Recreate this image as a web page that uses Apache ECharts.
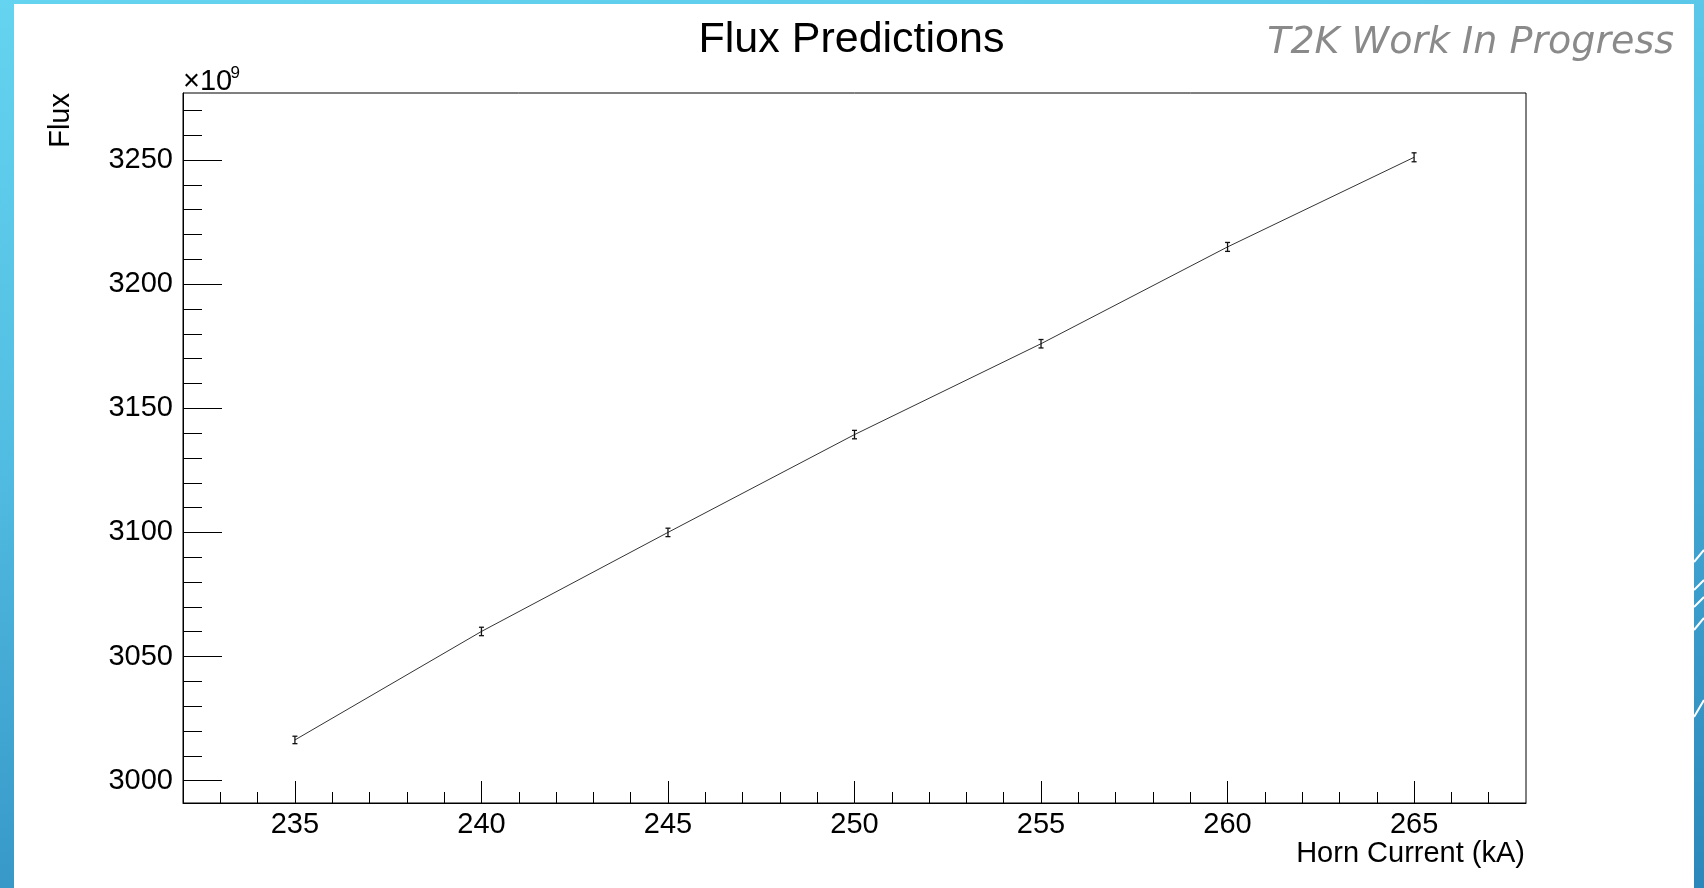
<!DOCTYPE html>
<html><head><meta charset="utf-8">
<script src="https://cdn.jsdelivr.net/npm/echarts@6/dist/echarts.min.js"></script>
<style>
html,body{margin:0;padding:0;width:1704px;height:888px;overflow:hidden;}
body{background:linear-gradient(172deg,#64d4f0 0%,#52bde2 40%,#3a9ccb 75%,#2c88ba 100%);}
#paper{position:absolute;left:14px;top:4px;width:1680px;height:884px;background:#fff;}
#chart{position:absolute;left:0;top:0;width:1704px;height:888px;}
</style></head><body>
<div id="paper"></div><div id="chart"></div>
<script>
// Data (flux in units of 1e9)
const hornCurrent = [235, 240, 245, 250, 255, 260, 265];
const fluxValues  = [3016.4, 3060.1, 3100.0, 3139.4, 3176.0, 3215.0, 3251.1];
const fluxErrors  = [1.5, 1.7, 1.7, 1.7, 1.7, 1.8, 1.8];

// Tick labels / tick positions
const xMajorTicks = [235, 240, 245, 250, 255, 260, 265];
const xMinorTicks = [233, 234, 236, 237, 238, 239, 241, 242, 243, 244, 246, 247, 248, 249,
                     251, 252, 253, 254, 256, 257, 258, 259, 261, 262, 263, 264, 266, 267];
const yMajorTicks = [3000, 3050, 3100, 3150, 3200, 3250];
const yMinorTicks = [3010, 3020, 3030, 3040, 3060, 3070, 3080, 3090, 3110, 3120, 3130, 3140,
                     3160, 3170, 3180, 3190, 3210, 3220, 3230, 3240, 3260, 3270];

const X_MIN = 232, X_MAX = 268, Y_MIN = 2991, Y_MAX = 3277;
const FONT = 'Liberation Sans, Arial, sans-serif';

const lineData = hornCurrent.map((x, i) => [x, fluxValues[i]]);
const errData = hornCurrent.map((x, i) => [x, fluxValues[i], fluxErrors[i]]);

const gridRect = {left: 183, top: 93, width: 1343, height: 710};

const chart = echarts.init(document.getElementById('chart'), null, {renderer: 'canvas'});

const labelStyle = {show: true, color: '#000', fontFamily: FONT, fontSize: 29, formatter: v => String(v)};

chart.setOption({
  animation: false,
  backgroundColor: 'transparent',
  grid: [
    Object.assign({show: true, borderColor: '#000', borderWidth: 1, backgroundColor: 'transparent'}, gridRect),
    Object.assign({show: false}, gridRect)
  ],
  xAxis: [
    {
      type: 'value', gridIndex: 0, min: X_MIN, max: X_MAX, position: 'bottom',
      axisLine: {show: true, onZero: false, lineStyle: {color: '#000', width: 1}},
      axisTick: {show: true, inside: true, length: 22, lineStyle: {color: '#000', width: 1}, customValues: xMajorTicks},
      axisLabel: Object.assign({margin: 7, customValues: xMajorTicks}, labelStyle),
      splitLine: {show: false}
    },
    {
      type: 'value', gridIndex: 1, min: X_MIN, max: X_MAX, position: 'bottom',
      axisLine: {show: false, onZero: false},
      axisTick: {show: true, inside: true, length: 11, lineStyle: {color: '#000', width: 1}, customValues: xMinorTicks},
      axisLabel: {show: false},
      splitLine: {show: false}
    }
  ],
  yAxis: [
    {
      type: 'value', gridIndex: 0, min: Y_MIN, max: Y_MAX, position: 'left',
      axisLine: {show: true, onZero: false, lineStyle: {color: '#000', width: 1}},
      axisTick: {show: true, inside: true, length: 39, lineStyle: {color: '#000', width: 1}, customValues: yMajorTicks},
      axisLabel: Object.assign({margin: 10, padding: [5, 0, 0, 0], customValues: yMajorTicks}, labelStyle),
      splitLine: {show: false}
    },
    {
      type: 'value', gridIndex: 1, min: Y_MIN, max: Y_MAX, position: 'left',
      axisLine: {show: false, onZero: false},
      axisTick: {show: true, inside: true, length: 19, lineStyle: {color: '#000', width: 1}, customValues: yMinorTicks},
      axisLabel: {show: false},
      splitLine: {show: false}
    }
  ],
  series: [
    {
      type: 'line', xAxisIndex: 0, yAxisIndex: 0, data: lineData,
      symbol: 'none', lineStyle: {color: '#333', width: 1}, z: 2
    },
    {
      type: 'custom', xAxisIndex: 0, yAxisIndex: 0, data: errData, z: 3,
      encode: {x: 0, y: 1},
      renderItem: function (params, api) {
        const x = api.value(0), y = api.value(1), e = api.value(2);
        const t = api.coord([x, y + e]);
        const b = api.coord([x, y - e]);
        const hw = 2.5;
        const st = {stroke: '#111', lineWidth: 1.3, fill: null};
        return {type: 'group', children: [
          {type: 'line', shape: {x1: t[0], y1: t[1], x2: b[0], y2: b[1]}, style: st},
          {type: 'line', shape: {x1: t[0] - hw, y1: t[1], x2: t[0] + hw, y2: t[1]}, style: st},
          {type: 'line', shape: {x1: b[0] - hw, y1: b[1], x2: b[0] + hw, y2: b[1]}, style: st}
        ]};
      }
    }
  ],
  graphic: [
    {type: 'text', x: 851.5, y: 40, style: {text: 'Flux Predictions', font: '43px ' + FONT, fill: '#000', textAlign: 'center', textVerticalAlign: 'middle'}},
    {type: 'text', x: 1674, y: 43, style: {text: 'T2K Work In Progress', font: 'italic 200 38px "DejaVu Sans", Lato, sans-serif', fill: '#8a8a8a', textAlign: 'right', textVerticalAlign: 'middle'}},
    {type: 'text', x: 183, y: 82, style: {text: '\u00d710', font: '29px ' + FONT, fill: '#000', textAlign: 'left', textVerticalAlign: 'middle'}},
    {type: 'text', x: 230.5, y: 73, style: {text: '9', font: '17px ' + FONT, fill: '#000', textAlign: 'left', textVerticalAlign: 'middle'}},
    {type: 'text', x: 61, y: 93, rotation: Math.PI / 2, style: {text: 'Flux', font: '29px ' + FONT, fill: '#000', textAlign: 'right', textVerticalAlign: 'middle'}},
    {type: 'text', x: 1525, y: 854, style: {text: 'Horn Current (kA)', font: '29px ' + FONT, fill: '#000', textAlign: 'right', textVerticalAlign: 'middle'}},
    // decorative white strokes on the right border
    {type: 'line', shape: {x1: 1694, y1: 562, x2: 1704, y2: 550}, style: {stroke: '#fff', lineWidth: 2}},
    {type: 'line', shape: {x1: 1694, y1: 590, x2: 1704, y2: 580}, style: {stroke: '#fff', lineWidth: 2}},
    {type: 'line', shape: {x1: 1694, y1: 607, x2: 1704, y2: 597}, style: {stroke: '#fff', lineWidth: 2}},
    {type: 'line', shape: {x1: 1694, y1: 630, x2: 1704, y2: 618}, style: {stroke: '#fff', lineWidth: 2}},
    {type: 'line', shape: {x1: 1694, y1: 717, x2: 1704, y2: 700}, style: {stroke: '#fff', lineWidth: 2}}
  ]
});
</script>
</body></html>
